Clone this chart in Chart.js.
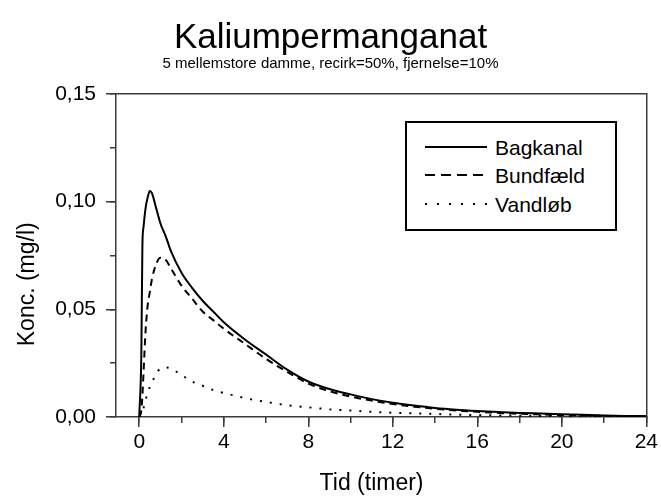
<!DOCTYPE html>
<html lang="da">
<head>
<meta charset="UTF-8">
<title>Kaliumpermanganat</title>
<script src="https://cdn.jsdelivr.net/npm/chart.js@4"></script>
<style>
  body { margin: 0; background: #fff; }
  #wrap { position: relative; width: 661px; height: 503px; }
  #legend {
    position: absolute; left: 405px; top: 121px; width: 212px; height: 110px;
    box-sizing: border-box; border: 2px solid #000; background: #fff;
    font-family: "Liberation Sans", Arial, sans-serif; font-size: 21px; color: #000;
  }
  .row { position: absolute; left: 0; width: 100%; height: 25px; line-height: 25px; }
  .row svg { position: absolute; left: 18px; top: 7px; }
  .row span { position: absolute; left: 88px; white-space: nowrap; }
</style>
</head>
<body>
<div id="wrap">
  <canvas id="chart" width="661" height="503"></canvas>
  <div id="legend"></div>
</div>
<script>
// tid i timer
const hours = [0, 0.1, 0.15, 0.2, 0.3, 0.4, 0.5, 0.6, 0.8, 1, 1.25, 1.5, 2, 2.5, 3, 3.5, 4,
  5, 6, 7, 8, 9, 10, 11, 12, 13, 14, 15, 16, 17, 18, 19, 20, 21, 22, 23, 24];

// koncentration (mg/l)
const bagkanal = [0, 0.03, 0.08, 0.088, 0.097, 0.102, 0.105, 0.104, 0.097, 0.090, 0.084, 0.077,
  0.067, 0.060, 0.054, 0.049, 0.044, 0.036, 0.029, 0.022, 0.0165, 0.013, 0.0105, 0.0083, 0.0066,
  0.0053, 0.0042, 0.0034, 0.0028, 0.0023, 0.0019, 0.0016, 0.0013, 0.001, 0.0007, 0.0005, 0.0004];
const bundfaeld = [0, 0.003, 0.01, 0.02, 0.04, 0.052, 0.058, 0.064, 0.071, 0.074, 0.073, 0.069,
  0.061, 0.055, 0.049, 0.045, 0.041, 0.034, 0.027, 0.021, 0.0155, 0.012, 0.0095, 0.0076, 0.006,
  0.0048, 0.0038, 0.003, 0.0024, 0.0019, 0.0015, 0.0012, 0.0009, 0.0007, 0.0005, 0.0004, 0.0003];
const vandloeb = [0, 0.001, 0.002, 0.004, 0.008, 0.011, 0.014, 0.016, 0.020, 0.0225, 0.023, 0.0225,
  0.0195, 0.0165, 0.0145, 0.0125, 0.0112, 0.0088, 0.007, 0.0055, 0.0045, 0.0036, 0.003, 0.0024,
  0.002, 0.0017, 0.0014, 0.0011, 0.0009, 0.0007, 0.0006, 0.0005, 0.0004, 0.0003, 0.0003, 0.0002, 0.0002];

const seriesNames = ['Bagkanal', 'Bundfæld', 'Vandløb'];
const xTicks = { min: -1.1, max: 24, major: 4, minor: 2 };
const yTicks = { min: 0, max: 0.15, major: 0.05, minor: 0.025 };

const axisColor = '#3c3c3c';
const font = 'Liberation Sans, Arial, sans-serif';

const pts = arr => hours.map((h, i) => ({ x: h, y: arr[i] }));

const styles = [
  { dash: [], legendDash: '' },
  { dash: [7, 5], legendDash: '10 6' },
  { dash: [2, 8], legendDash: '2 10' }
];

const datasets = [bagkanal, bundfaeld, vandloeb].map((arr, i) => ({
  label: seriesNames[i],
  data: pts(arr),
  xAxisID: 'x',
  yAxisID: 'y',
  borderColor: '#000',
  borderWidth: 2,
  borderDash: styles[i].dash,
  pointRadius: 0,
  cubicInterpolationMode: 'monotone',
  fill: false
}));

// ekstra akser: små mellem-streger og ramme top/højre
const flat = s => { if (s.isHorizontal()) s.height = 0; else s.width = 0; };

new Chart(document.getElementById('chart'), {
  type: 'line',
  data: { datasets },
  options: {
    responsive: false,
    animation: false,
    devicePixelRatio: 1,
    layout: { padding: 0 },
    plugins: {
      legend: { display: false },
      tooltip: { enabled: false },
      title: {
        display: true,
        text: 'Kaliumpermanganat',
        color: '#000',
        font: { family: font, size: 35, weight: 'normal', lineHeight: 0.6 },
        padding: { top: 28, bottom: 0 }
      },
      subtitle: {
        display: true,
        text: '5 mellemstore damme, recirk=50%, fjernelse=10%',
        color: '#000',
        font: { family: font, size: 15, lineHeight: 1 },
        padding: { top: 7.5, bottom: 22.5 }
      }
    },
    scales: {
      x: {
        type: 'linear', position: 'bottom',
        min: xTicks.min, max: xTicks.max,
        ticks: {
          stepSize: xTicks.major, includeBounds: false, color: '#000', padding: 3,
          font: { family: font, size: 21 }, maxRotation: 0
        },
        grid: { drawOnChartArea: false, tickLength: 10, color: axisColor, lineWidth: 1.5 },
        border: { color: axisColor, width: 1.5 },
        title: {
          display: true, text: 'Tid (timer)   ', color: '#000',
          font: { family: font, size: 23 }, padding: { top: 0, bottom: 6 }
        },
        afterFit: s => { s.height = 86; }
      },
      xMinor: {
        type: 'linear', position: 'bottom', weight: -1,
        min: xTicks.min, max: xTicks.max,
        ticks: { stepSize: xTicks.minor, includeBounds: false, display: false },
        grid: { drawOnChartArea: false, tickLength: 6, color: axisColor, lineWidth: 1.5 },
        border: { display: false },
        afterFit: flat
      },
      xTop: {
        type: 'linear', position: 'top', weight: -1,
        min: xTicks.min, max: xTicks.max,
        ticks: { display: false },
        grid: { drawOnChartArea: false, drawTicks: false },
        border: { color: axisColor, width: 1.5 },
        afterFit: flat
      },
      y: {
        type: 'linear', position: 'left',
        min: yTicks.min, max: yTicks.max,
        ticks: {
          stepSize: yTicks.major, color: '#000', padding: 10,
          font: { family: font, size: 21 },
          callback: v => v.toFixed(2).replace('.', ',')
        },
        grid: { drawOnChartArea: false, tickLength: 10, color: axisColor, lineWidth: 1.5 },
        border: { color: axisColor, width: 1.5 },
        title: {
          display: true, text: 'Konc. (mg/l)         ', color: '#000',
          font: { family: font, size: 23 }, padding: { top: 14, bottom: 0 }
        },
        afterFit: s => { s.width = 116; }
      },
      yMinor: {
        type: 'linear', position: 'left', weight: -1,
        min: yTicks.min, max: yTicks.max,
        ticks: { stepSize: yTicks.minor, display: false },
        grid: { drawOnChartArea: false, tickLength: 6, color: axisColor, lineWidth: 1.5 },
        border: { display: false },
        afterFit: flat
      },
      yRight: {
        type: 'linear', position: 'right', weight: -1,
        min: yTicks.min, max: yTicks.max,
        ticks: { display: false },
        grid: { drawOnChartArea: false, drawTicks: false },
        border: { color: axisColor, width: 1.5 },
        afterFit: s => { s.width = 14; }
      }
    }
  }
});

// forklaring med ramme
const legend = document.getElementById('legend');
const rowTops = [11.5, 40, 68.5];
datasets.forEach((ds, i) => {
  const row = document.createElement('div');
  row.className = 'row';
  row.style.top = rowTops[i] + 'px';
  row.innerHTML =
    '<svg width="62" height="10"><line x1="0" y1="5" x2="62" y2="5" stroke="#000" stroke-width="2"' +
    (styles[i].legendDash ? ' stroke-dasharray="' + styles[i].legendDash + '"' : '') +
    '/></svg><span>' + ds.label + '</span>';
  legend.appendChild(row);
});
</script>
</body>
</html>
